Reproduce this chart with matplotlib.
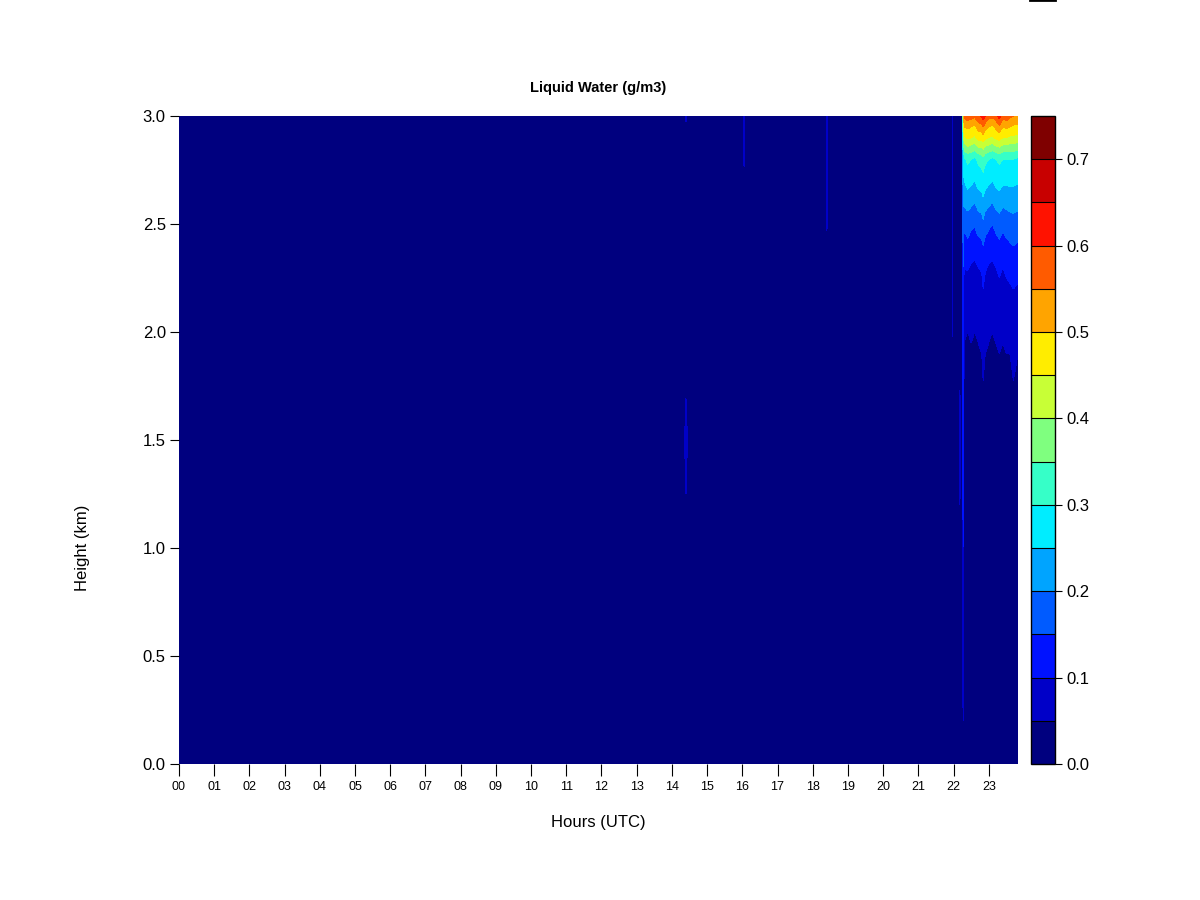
import numpy as np
import matplotlib
matplotlib.use("Agg")
import matplotlib.pyplot as plt
from matplotlib.lines import Line2D

plt.rcParams['font.family'] = ['Liberation Sans', 'DejaVu Sans']

# heights of the profile levels (km)
heights = [0.0, 0.2, 0.5, 1.0, 1.3, 1.5, 1.65, 1.9, 2.0, 2.1,
           2.2, 2.3, 2.4, 2.5, 2.6, 2.7, 2.8, 2.9, 2.95, 3.0]

# times (UTC hours) of the profiles and the liquid water profiles (g/m3)
times = [0.00, 14.30, 14.40, 14.50, 15.95, 16.05, 16.15, 18.30, 18.40, 18.50,
         21.88, 21.97, 22.10, 22.18, 22.24, 22.27,
         22.30, 22.40, 22.50, 22.60, 22.70, 22.80, 22.84, 22.90, 23.00,
         23.10, 23.20, 23.30, 23.40, 23.50, 23.60, 23.70, 23.83]

lwc_profiles = [
    [0, 0, 0, 0, 0, 0, 0, 0, 0, 0, 0, 0, 0, 0, 0, 0, 0, 0, 0, 0],
    [0, 0, 0, 0, 0, 0, 0, 0, 0, 0, 0, 0, 0, 0, 0, 0, 0, 0, 0, 0],
    [0, 0, 0, 0, 0.06, 0.08, 0.06, 0, 0, 0, 0, 0, 0, 0, 0, 0, 0, 0, 0.04, 0.06],
    [0, 0, 0, 0, 0, 0, 0, 0, 0, 0, 0, 0, 0, 0, 0, 0, 0, 0, 0, 0],
    [0, 0, 0, 0, 0, 0, 0, 0, 0, 0, 0, 0, 0, 0, 0, 0, 0, 0, 0, 0],
    [0, 0, 0, 0, 0, 0, 0, 0, 0, 0, 0, 0, 0, 0, 0, 0.03, 0.06, 0.06, 0.06, 0.06],
    [0, 0, 0, 0, 0, 0, 0, 0, 0, 0, 0, 0, 0, 0, 0, 0, 0, 0, 0, 0],
    [0, 0, 0, 0, 0, 0, 0, 0, 0, 0, 0, 0, 0, 0, 0, 0, 0, 0, 0, 0],
    [0, 0, 0, 0, 0, 0, 0, 0, 0, 0, 0, 0, 0.03, 0.06, 0.06, 0.06, 0.06, 0.06, 0.06, 0.06],
    [0, 0, 0, 0, 0, 0, 0, 0, 0, 0, 0, 0, 0, 0, 0, 0, 0, 0, 0, 0],
    [0, 0, 0, 0, 0, 0, 0, 0, 0, 0, 0, 0, 0, 0, 0, 0, 0, 0, 0, 0],
    [0, 0, 0, 0, 0, 0, 0, 0.03, 0.055, 0.055, 0.055, 0.055, 0.055, 0.055, 0.055, 0.055, 0.055, 0.055, 0.055, 0.055],
    [0, 0, 0, 0, 0, 0, 0, 0, 0, 0, 0, 0, 0, 0, 0, 0, 0, 0, 0, 0],
    [0, 0, 0, 0.03, 0.06, 0.07, 0.06, 0.03, 0.04, 0.04, 0.045, 0.045, 0.045, 0.045, 0.045, 0.045, 0.045, 0.045, 0.045, 0.045],
    [0, 0, 0, 0, 0, 0, 0, 0, 0, 0, 0, 0, 0, 0, 0, 0, 0, 0, 0, 0],
    [0, 0.05, 0.08, 0.10, 0.12, 0.15, 0.14, 0.12, 0.12, 0.13, 0.14, 0.15, 0.16, 0.18, 0.20, 0.22, 0.25, 0.30, 0.35, 0.40],
    [0, 0, 0.01, 0.02, 0.02, 0.025, 0.03, 0.045, 0.055, 0.065, 0.08, 0.10, 0.13, 0.16, 0.21, 0.25, 0.29, 0.44, 0.50, 0.56],
    [0, 0, 0.01, 0.015, 0.02, 0.025, 0.03, 0.04, 0.05, 0.06, 0.075, 0.105, 0.14, 0.17, 0.22, 0.27, 0.31, 0.46, 0.51, 0.58],
    [0, 0, 0.01, 0.015, 0.02, 0.025, 0.03, 0.045, 0.055, 0.065, 0.08, 0.095, 0.125, 0.16, 0.21, 0.26, 0.30, 0.45, 0.50, 0.57],
    [0, 0, 0.01, 0.015, 0.02, 0.025, 0.03, 0.04, 0.05, 0.06, 0.075, 0.09, 0.12, 0.155, 0.20, 0.25, 0.29, 0.44, 0.49, 0.56],
    [0, 0, 0.01, 0.015, 0.02, 0.025, 0.035, 0.045, 0.055, 0.07, 0.08, 0.10, 0.135, 0.17, 0.22, 0.27, 0.31, 0.47, 0.52, 0.59],
    [0, 0, 0.01, 0.02, 0.025, 0.03, 0.035, 0.05, 0.06, 0.07, 0.085, 0.105, 0.14, 0.175, 0.225, 0.275, 0.32, 0.47, 0.53, 0.61],
    [0, 0, 0.01, 0.02, 0.03, 0.04, 0.045, 0.055, 0.07, 0.085, 0.10, 0.12, 0.15, 0.19, 0.24, 0.28, 0.33, 0.48, 0.55, 0.63],
    [0, 0, 0.01, 0.02, 0.025, 0.03, 0.04, 0.05, 0.06, 0.075, 0.085, 0.105, 0.135, 0.17, 0.22, 0.27, 0.31, 0.46, 0.52, 0.60],
    [0, 0, 0.01, 0.015, 0.02, 0.025, 0.03, 0.045, 0.055, 0.065, 0.075, 0.095, 0.125, 0.16, 0.21, 0.26, 0.30, 0.45, 0.50, 0.57],
    [0, 0, 0.01, 0.015, 0.02, 0.025, 0.03, 0.04, 0.05, 0.06, 0.07, 0.09, 0.12, 0.15, 0.20, 0.25, 0.29, 0.44, 0.49, 0.56],
    [0, 0, 0.01, 0.02, 0.02, 0.025, 0.035, 0.045, 0.055, 0.065, 0.08, 0.10, 0.13, 0.165, 0.215, 0.265, 0.30, 0.46, 0.51, 0.58],
    [0, 0, 0.01, 0.02, 0.025, 0.03, 0.04, 0.05, 0.06, 0.075, 0.09, 0.11, 0.14, 0.175, 0.225, 0.27, 0.31, 0.47, 0.54, 0.62],
    [0, 0, 0.01, 0.02, 0.025, 0.03, 0.035, 0.045, 0.055, 0.07, 0.08, 0.10, 0.13, 0.16, 0.21, 0.26, 0.30, 0.45, 0.50, 0.57],
    [0, 0, 0.01, 0.02, 0.025, 0.03, 0.04, 0.05, 0.06, 0.075, 0.09, 0.11, 0.14, 0.17, 0.215, 0.26, 0.30, 0.45, 0.51, 0.58],
    [0, 0, 0.01, 0.02, 0.03, 0.035, 0.04, 0.05, 0.065, 0.08, 0.095, 0.115, 0.145, 0.175, 0.22, 0.26, 0.30, 0.44, 0.50, 0.56],
    [0, 0, 0.01, 0.02, 0.03, 0.035, 0.045, 0.055, 0.07, 0.085, 0.10, 0.12, 0.15, 0.18, 0.22, 0.26, 0.30, 0.44, 0.49, 0.55],
    [0, 0, 0.01, 0.02, 0.03, 0.035, 0.04, 0.05, 0.065, 0.08, 0.095, 0.115, 0.145, 0.175, 0.215, 0.255, 0.29, 0.43, 0.49, 0.55],
]

levels = [0.0, 0.05, 0.10, 0.15, 0.20, 0.25, 0.30, 0.35, 0.40,
          0.45, 0.50, 0.55, 0.60, 0.65, 0.70, 0.75]
colors = ['#00007F', '#0000C8', '#0012FF', '#005BFF', '#00A4FF',
          '#00EDFF', '#36FFC8', '#7FFF7F', '#C8FF36', '#FFED00',
          '#FFA400', '#FF5B00', '#FF1200', '#C80000', '#7F0000']

hour_labels = ['%02d' % h for h in range(24)]
height_ticks = [0.0, 0.5, 1.0, 1.5, 2.0, 2.5, 3.0]
cbar_ticks = [0.0, 0.1, 0.2, 0.3, 0.4, 0.5, 0.6, 0.7]

Z = np.array(lwc_profiles).T

fig = plt.figure(figsize=(12, 9), dpi=100)
ax = fig.add_axes([179/1200, 136/900, 839/1200, 648/900])
cs = ax.contourf(times, heights, Z, levels=levels, colors=colors)
ax.set_xlim(0, 23.83)
ax.set_ylim(0, 3.0)
for s in ax.spines.values():
    s.set_visible(False)

ax.set_xticks(range(24))
ax.set_xticklabels(hour_labels, fontsize=9)
ax.set_yticks(height_ticks)
ax.set_yticklabels(['%.1f' % v for v in height_ticks], fontsize=12)
ax.tick_params(axis='x', length=8.5, width=0.8, pad=4)
ax.tick_params(axis='y', length=6.5, width=0.8, pad=3)

# axis titles placed where R put them
fig.text(598/1200, 1 - 823/900, 'Hours (UTC)', fontsize=12,
         ha='center', va='center')
fig.text(83/1200, 1 - 548/900, 'Height (km)', fontsize=12,
         ha='center', va='center', rotation=90)
fig.text(598/1200, 1 - 88/900, 'Liquid Water (g/m3)', fontsize=10.5,
         fontweight='bold', ha='center', va='center')

cax = fig.add_axes([1031/1200, 136/900, 24/1200, 648/900])
cbar = fig.colorbar(cs, cax=cax, ticks=cbar_ticks, drawedges=True)
cbar.outline.set_edgecolor('black')
cbar.outline.set_linewidth(1.0)
cbar.dividers.set_color('black')
cbar.dividers.set_linewidth(0.8)
cbar.ax.set_yticklabels(['%.1f' % v for v in cbar_ticks], fontsize=12)
cbar.ax.tick_params(length=5, width=0.8, pad=3)

fig.add_artist(Line2D([1030/1200, 1055/1200], [0.9995, 0.9995],
                      color='black', linewidth=2))

plt.savefig('out.png', dpi=100)
